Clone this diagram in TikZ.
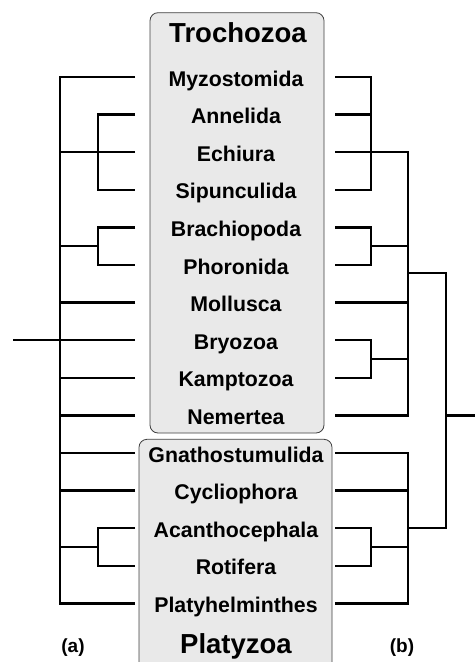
\documentclass[tikz,border=0pt]{standalone}
\usepackage{fontspec}
\setmainfont{Liberation Sans}
\usetikzlibrary{calc}

\tikzset{
  tree/.style={line width=2.5pt},
  grpbox/.style={draw=black!75, fill=gray!17, rounded corners=8pt, line width=0.8pt},
  taxon/.style={anchor=base, inner sep=0pt, font=\bfseries\fontsize{21.3}{22}\selectfont},
  grpname/.style={anchor=base, inner sep=0pt, font=\bfseries\fontsize{27.5}{28}\selectfont},
  panel/.style={anchor=base, inner sep=0pt, font=\bfseries\fontsize{19}{20}\selectfont}
}

\begin{document}
\begin{tikzpicture}[x=1pt, y=-1pt, line join=miter]
  \useasboundingbox (0,0) rectangle (475,662);
  \begin{scope}
    \clip (0,0) rectangle (475,662);
    \draw[grpbox] (150,12.7) rectangle (324,433);
    \draw[grpbox] (139,439.3) rectangle (332,690);
  \end{scope}
  \node[grpname] (troch) at (238,42.5) {Trochozoa};
  \node[grpname] (platy) at (236,653) {Platyzoa};
  % taxa and the ends of their branches
  \foreach \n/\t [count=\i] in {myzo/Myzostomida, anne/Annelida, echi/Echiura,
      sipu/Sipunculida, brac/Brachiopoda, phor/Phoronida, moll/Mollusca,
      bryo/Bryozoa, kamp/Kamptozoa, neme/Nemertea, gnat/Gnathostumulida,
      cycl/Cycliophora, acan/Acanthocephala, roti/Rotifera, plat/Platyhelminthes} {
    \pgfmathsetmacro\ry{77+37.6*(\i-1)}
    \node[taxon] (\n) at (236,\ry+9) {\t};
    \coordinate (\n-a) at (135,\ry);
    \coordinate (\n-b) at (335,\ry);
  }
  % tree (a)
  \coordinate (a0) at (60,340.2);
  \coordinate (aroot) at (13,340.2);
  \coordinate (a-an) at (98,152.2);
  \coordinate (a-bp) at (98,246.2);
  \coordinate (a-ar) at (98,547);
  \draw[tree] (myzo-a) -| (plat-a -| a0) -- (plat-a);
  \foreach \n in {echi,moll,bryo,kamp,neme,gnat,cycl}
    \draw[tree] (\n-a) -- (\n-a -| a0);
  \draw[tree] (a0) -- (aroot);
  \draw[tree] (anne-a) -| (a-an) |- (sipu-a);
  \draw[tree] (brac-a) -| (a-bp) |- (phor-a);
  \draw[tree] (a-bp) -- (a-bp -| a0);
  \draw[tree] (acan-a) -| (a-ar) |- (roti-a);
  \draw[tree] (a-ar) -- (a-ar -| a0);
  % tree (b)
  \coordinate (b-an) at (371,152.2);
  \coordinate (b-bp) at (371,246.2);
  \coordinate (b-bk) at (371,359);
  \coordinate (b-ar) at (371,547);
  \coordinate (b-tro) at (408,273);
  \coordinate (b-pla) at (408,528.2);
  \coordinate (b0) at (446,415.4);
  \coordinate (broot) at (475,415.4);
  \draw[tree] (myzo-b) -| (sipu-b -| b-an) -- (sipu-b);
  \draw[tree] (anne-b) -- (anne-b -| b-an);
  \draw[tree] (echi-b) -| (b-tro) |- (neme-b);
  \draw[tree] (moll-b) -- (moll-b -| b-tro);
  \draw[tree] (brac-b) -| (b-bp) |- (phor-b);
  \draw[tree] (b-bp) -- (b-bp -| b-tro);
  \draw[tree] (bryo-b) -| (b-bk) |- (kamp-b);
  \draw[tree] (b-bk) -- (b-bk -| b-tro);
  \draw[tree] (gnat-b) -| (b-pla) |- (plat-b);
  \draw[tree] (cycl-b) -- (cycl-b -| b-pla);
  \draw[tree] (acan-b) -| (b-ar) |- (roti-b);
  \draw[tree] (b-ar) -- (b-ar -| b-pla);
  \draw[tree] (b-tro) -| (b-pla -| b0) -- (b-pla);
  \draw[tree] (b0) -- (broot);
  \node[panel] (la) at (73,652) {(a)};
  \node[panel] (lb) at (402,652) {(b)};
\end{tikzpicture}
\end{document}
